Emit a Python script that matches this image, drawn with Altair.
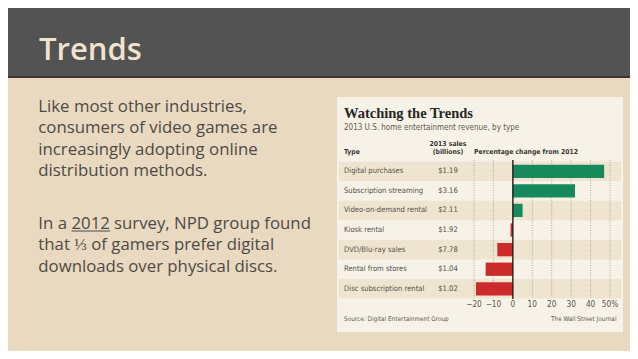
import altair as alt
import pandas as pd

# ---------------- data ----------------
types = ["Digital purchases", "Subscription streaming", "Video-on-demand rental",
         "Kiosk rental", "DVD/Blu-ray sales", "Rental from stores",
         "Disc subscription rental"]
sales = ["$1.19", "$3.16", "$2.11", "$1.92", "$7.78", "$1.04", "$1.02"]
pct_change = [47, 32, 5, -1.2, -8, -14, -19]
tick_values = [-20, -10, 0, 10, 20, 30, 40, 50]
tick_labels = ["\u221220", "\u221210", "0", "10", "20", "30", "40", "50%"]

slide_title = "Trends"
para1 = ["Like most other industries,", "consumers of video games are",
         "increasingly adopting online", "distribution methods."]
para2_start = "In a"
para2_link = "2012"
para2_rest = "survey, NPD group found"
para2_more = ["that \u2153 of gamers prefer digital", "downloads over physical discs."]

chart_title = "Watching the Trends"
chart_subtitle = "2013 U.S. home entertainment revenue, by type"
col_type = "Type"
col_sales = ["2013 sales", "(billions)"]
col_change = "Percentage change from 2012"
source = "Source: Digital Entertainment Group"
credit = "The Wall Street Journal"

rows = pd.DataFrame({"type": types, "sales": sales, "pct": pct_change})
ticks = pd.DataFrame({"v": tick_values, "label": tick_labels})
one = pd.DataFrame({"a": [0]})

# ---------------- styles ----------------
W, H = 622, 343
BG = "#e8d9c0"
NARROW = "'Liberation Sans Narrow', 'DejaVu Sans Condensed', 'Liberation Sans', sans-serif"
xscale = alt.Scale(domain=[-20, 50], range=[466, 602], nice=False, zero=False)
yscale = alt.Scale(domain=types, range=[153.5, 290.6], paddingInner=0, paddingOuter=0)


def box(x1, x2, y1, y2, color):
    return alt.Chart(one).mark_rect(color=color).encode(
        x=alt.value(x1), x2=alt.value(x2), y=alt.value(y1), y2=alt.value(y2))


def label(txt, x, y, **kw):
    return alt.Chart(one).mark_text(baseline="alphabetic", **kw).encode(
        x=alt.value(x), y=alt.value(y), text=alt.value(txt))


header = box(0, W, 0, 68, "#535353")
header_line = box(0, W, 68, 70, "#3a3531")
title = label(slide_title, 31, 51.5, align="left", font="Open Sans",
              fontSize=31, fontWeight=600, color="#efe3cd")

body_kw = dict(align="left", font="Open Sans", fontSize=16.8, color="#4f4a45",
               lineHeight=21.5)
p1 = label(para1, 30.3, 103.7, **body_kw)
p2a = label(para2_start, 30.3, 221, **body_kw)
p2b = label(para2_link, 63.5, 221, **body_kw)
p2c = label(para2_rest, 106, 221, **body_kw)
p2d = label(para2_more, 30.3, 242.3, **body_kw)
underline = alt.Chart(one).mark_rule(color="#4f4a45", strokeWidth=1).encode(
    x=alt.value(63.5), x2=alt.value(102), y=alt.value(223))

panel = box(329, 615, 89, 324, "#f7f2e7")

stripes = alt.Chart(rows).transform_window(rn="row_number()").transform_filter(
    "datum.rn % 2 == 1").mark_rect(color="#efe4cf").encode(
    y=alt.Y("type:N", scale=yscale, axis=None),
    x=alt.value(331), x2=alt.value(613))

grid = alt.Chart(ticks).transform_filter("datum.v != 0").mark_rule(
    color="#9d968a", strokeDash=[1, 1.5], strokeWidth=0.8).encode(
    x=alt.X("v:Q", scale=xscale, axis=None),
    y=alt.value(152), y2=alt.value(290))

bars = alt.Chart(rows).mark_bar(height=alt.RelativeBandSize(0.68)).encode(
    x=alt.X("pct:Q", scale=xscale, axis=None),
    x2=alt.datum(0),
    y=alt.Y("type:N", scale=yscale, axis=None),
    color=alt.condition("datum.pct > 0", alt.value("#168a5c"), alt.value("#cc2b2b")),
)

zero = alt.Chart(ticks).transform_filter("datum.v == 0").mark_rule(
    color="#1d1d1d", strokeWidth=1.4).encode(
    x=alt.X("v:Q", scale=xscale, axis=None),
    y=alt.value(152), y2=alt.value(291))

row_labels = alt.Chart(rows).mark_text(align="left", baseline="middle", font=NARROW,
                                       fontSize=7.6, color="#555049").encode(
    x=alt.value(336), y=alt.Y("type:N", scale=yscale, axis=None), text="type:N")

row_values = alt.Chart(rows).mark_text(align="center", baseline="middle", font=NARROW,
                                       fontSize=7.6, color="#555049").encode(
    x=alt.value(440), y=alt.Y("type:N", scale=yscale, axis=None), text="sales:N")

tick_text = alt.Chart(ticks).mark_text(align="center", baseline="alphabetic", font=NARROW,
                                       fontSize=8.2, color="#5a554e").encode(
    x=alt.X("v:Q", scale=xscale, axis=None), y=alt.value(299), text="label:N")

c_title = label(chart_title, 336, 110.3, align="left", font="Liberation Serif",
                fontSize=14.5, fontWeight="bold", color="#262626")
c_sub = label(chart_subtitle, 336, 122.3, align="left", font=NARROW,
              fontSize=8, color="#5e5a54")
hdr_kw = dict(font=NARROW, fontSize=6.8, fontWeight="bold", color="#3a3733")
h_type = label(col_type, 336, 146, align="left", **hdr_kw)
h_sales = label(col_sales, 440, 138.3, align="center", lineHeight=7.5, **hdr_kw)
h_change = label(col_change, 466, 145.5, align="left", **hdr_kw)
f_source = label(source, 336, 312.5, align="left", font=NARROW, fontSize=6.4,
                 color="#5e5a54")
f_credit = label(credit, 608.5, 312.5, align="right", font=NARROW, fontSize=6.4,
                 color="#5e5a54")

chart = alt.layer(
    header, header_line, title, p1, p2a, p2b, p2c, p2d, underline,
    panel, stripes, grid, bars, zero, row_labels, row_values, tick_text,
    c_title, c_sub, h_type, h_sales, h_change, f_source, f_credit,
).properties(
    width=W, height=H, padding=0, autosize=alt.AutoSizeParams(type="none"),
    background=BG,
).configure_view(stroke=None)

chart.save("out.html", embed_options={"renderer": "svg", "actions": False})
